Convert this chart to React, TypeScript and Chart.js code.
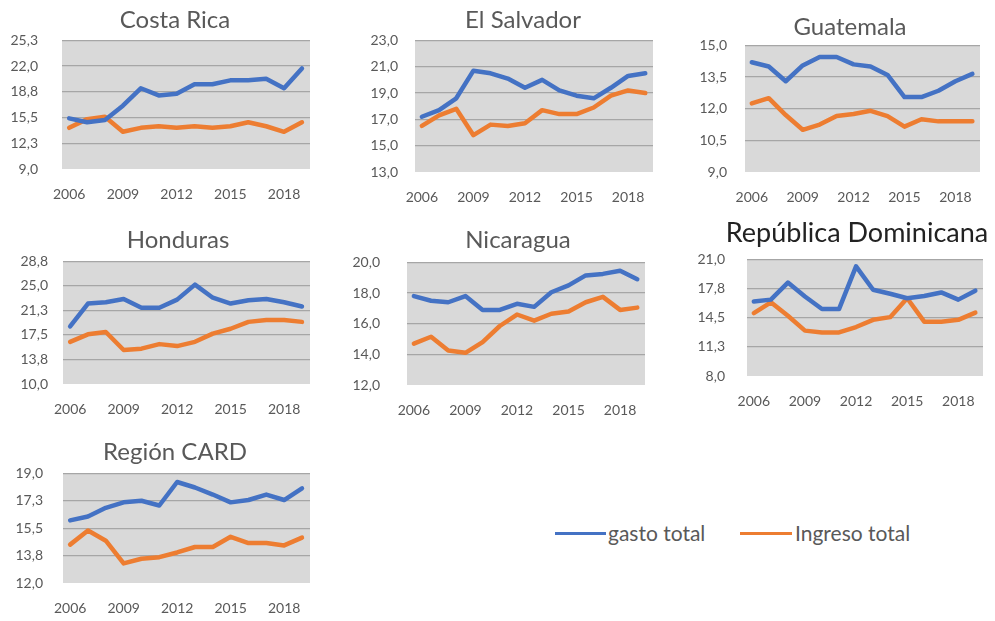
import React, { useEffect, useRef } from "react";
import { Chart, registerables } from "chart.js";

Chart.register(...registerables);

// ---------- DATA ----------
const years = [2006, 2007, 2008, 2009, 2010, 2011, 2012, 2013, 2014, 2015, 2016, 2017, 2018, 2019];
const xTickYears = [2006, 2009, 2012, 2015, 2018];

const costaRicaGasto = [15.4, 14.9, 15.2, 17.0, 19.2, 18.3, 18.5, 19.7, 19.7, 20.2, 20.2, 20.4, 19.2, 21.7];
const costaRicaIngreso = [14.2, 15.3, 15.6, 13.7, 14.2, 14.4, 14.2, 14.4, 14.2, 14.4, 14.9, 14.4, 13.7, 14.9];
const costaRicaTicks = [9, 12.25, 15.5, 18.75, 22, 25.25];

const elSalvadorGasto = [17.2, 17.7, 18.6, 20.7, 20.5, 20.1, 19.4, 20.0, 19.2, 18.8, 18.6, 19.4, 20.3, 20.5];
const elSalvadorIngreso = [16.5, 17.3, 17.8, 15.8, 16.6, 16.5, 16.7, 17.7, 17.4, 17.4, 17.9, 18.8, 19.2, 19.0];
const elSalvadorTicks = [13, 15, 17, 19, 21, 23];

const guatemalaGasto = [14.2, 14.0, 13.3, 14.05, 14.45, 14.45, 14.1, 14.0, 13.6, 12.55, 12.55, 12.85, 13.3, 13.65];
const guatemalaIngreso = [12.25, 12.5, 11.7, 11.0, 11.25, 11.65, 11.75, 11.9, 11.65, 11.15, 11.5, 11.4, 11.4, 11.4];
const guatemalaTicks = [9, 10.5, 12, 13.5, 15];

const hondurasGasto = [18.8, 22.3, 22.5, 23.0, 21.65, 21.65, 22.9, 25.2, 23.2, 22.3, 22.8, 23.0, 22.5, 21.85];
const hondurasIngreso = [16.45, 17.6, 17.95, 15.2, 15.4, 16.1, 15.8, 16.45, 17.7, 18.45, 19.5, 19.8, 19.8, 19.5];
const hondurasTicks = [10, 13.75, 17.5, 21.25, 25, 28.75];

const nicaraguaGasto = [17.8, 17.5, 17.4, 17.8, 16.9, 16.9, 17.3, 17.1, 18.05, 18.5, 19.15, 19.25, 19.45, 18.9];
const nicaraguaIngreso = [14.7, 15.15, 14.25, 14.1, 14.8, 15.85, 16.6, 16.2, 16.65, 16.8, 17.4, 17.75, 16.9, 17.05];
const nicaraguaTicks = [12, 14, 16, 18, 20];

const dominicanaGasto = [16.3, 16.5, 18.4, 16.85, 15.45, 15.45, 20.2, 17.6, 17.15, 16.65, 16.9, 17.3, 16.5, 17.5];
const dominicanaIngreso = [15.0, 16.2, 14.7, 13.05, 12.85, 12.85, 13.45, 14.25, 14.55, 16.65, 14.05, 14.05, 14.25, 15.05];
const dominicanaTicks = [8, 11.25, 14.5, 17.75, 21];

const cardGasto = [16.0, 16.25, 16.8, 17.15, 17.25, 16.95, 18.45, 18.1, 17.65, 17.15, 17.3, 17.65, 17.3, 18.05];
const cardIngreso = [14.45, 15.35, 14.7, 13.25, 13.55, 13.65, 13.95, 14.3, 14.3, 14.95, 14.55, 14.55, 14.4, 14.9];
const cardTicks = [12, 13.75, 15.5, 17.25, 19];

const seriesNames = ["gasto total", "Ingreso total"];

// ---------- STYLE / LAYOUT ----------
const BLUE = "#4472c4";
const ORANGE = "#ed7d31";
const TEXT = "#595959";
const GRID = "#a6a6a6";
const PLOT_BG = "#d9d9d9";
const FONT = "Lato, 'Open Sans', sans-serif";

type Panel = {
  title: string;
  gasto: number[];
  ingreso: number[];
  ticks: number[];
  rect: [number, number, number, number]; // plot L, T, R, B
  titleX: number;
  labelGap: number;
  titleAbove: number;
  titleSize: number;
  titleColor: string;
};

const panels: Panel[] = [
  { title: "Costa Rica", gasto: costaRicaGasto, ingreso: costaRicaIngreso, ticks: costaRicaTicks, rect: [62, 40, 310, 169], titleX: 175, labelGap: 24, titleAbove: 20, titleSize: 24, titleColor: TEXT },
  { title: "El Salvador", gasto: elSalvadorGasto, ingreso: elSalvadorIngreso, ticks: elSalvadorTicks, rect: [415, 40, 653, 172], titleX: 523, labelGap: 17, titleAbove: 20, titleSize: 24, titleColor: TEXT },
  { title: "Guatemala", gasto: guatemalaGasto, ingreso: guatemalaIngreso, ticks: guatemalaTicks, rect: [745, 45, 980, 172], titleX: 850, labelGap: 18, titleAbove: 18, titleSize: 24, titleColor: TEXT },
  { title: "Honduras", gasto: hondurasGasto, ingreso: hondurasIngreso, ticks: hondurasTicks, rect: [63, 261, 310, 384], titleX: 178, labelGap: 15, titleAbove: 21, titleSize: 24, titleColor: TEXT },
  { title: "Nicaragua", gasto: nicaraguaGasto, ingreso: nicaraguaIngreso, ticks: nicaraguaTicks, rect: [407, 262, 645, 385], titleX: 518, labelGap: 27, titleAbove: 22, titleSize: 24, titleColor: TEXT },
  { title: "República Dominicana", gasto: dominicanaGasto, ingreso: dominicanaIngreso, ticks: dominicanaTicks, rect: [747, 259, 983, 376], titleX: 857, labelGap: 22, titleAbove: 26, titleSize: 27, titleColor: "#222222" },
  { title: "Región CARD", gasto: cardGasto, ingreso: cardIngreso, ticks: cardTicks, rect: [63, 473, 310, 583], titleX: 175, labelGap: 20, titleAbove: 21, titleSize: 24, titleColor: TEXT },
];

const YW = 70; // y-axis box width
const XH = 40; // x-axis box height
const TITLE_TOP = 2;

const bgPlugin = {
  id: "plotBg",
  beforeDraw(chart: any) {
    const { ctx, chartArea } = chart;
    if (!chartArea) return;
    ctx.save();
    ctx.fillStyle = PLOT_BG;
    ctx.fillRect(chartArea.left, chartArea.top, chartArea.right - chartArea.left, chartArea.bottom - chartArea.top);
    ctx.restore();
  },
};

function fmt(v: number) {
  return v.toFixed(1).replace(".", ",");
}

function MiniChart({ p }: { p: Panel }) {
  const ref = useRef<HTMLCanvasElement | null>(null);
  const [L, T, R, B] = p.rect;
  const lineH = p.titleSize * 1.2;
  const padBottom = p.titleAbove - lineH / 2;
  const TH = TITLE_TOP + lineH + padBottom;
  const width = Math.round(2 * (p.titleX - L + YW));
  const RP = width - YW - (R - L);
  const height = Math.round(TH + (B - T) + XH);

  useEffect(() => {
    if (!ref.current) return;
    const ymin = p.ticks[0];
    const ymax = p.ticks[p.ticks.length - 1];
    const chart = new Chart(ref.current, {
      type: "line",
      data: {
        datasets: [
          {
            label: seriesNames[0],
            data: years.map((y, i) => ({ x: y, y: p.gasto[i] })),
            borderColor: BLUE,
            backgroundColor: BLUE,
            borderWidth: 4.5,
            pointRadius: 0,
            tension: 0,
            borderJoinStyle: "round",
            borderCapStyle: "round",
          },
          {
            label: seriesNames[1],
            data: years.map((y, i) => ({ x: y, y: p.ingreso[i] })),
            borderColor: ORANGE,
            backgroundColor: ORANGE,
            borderWidth: 4.5,
            pointRadius: 0,
            tension: 0,
            borderJoinStyle: "round",
            borderCapStyle: "round",
          },
        ],
      },
      options: {
        animation: false,
        responsive: false,
        maintainAspectRatio: false,
        events: [],
        layout: { padding: 0 },
        plugins: {
          legend: { display: false },
          tooltip: { enabled: false },
          title: {
            display: true,
            text: p.title,
            color: p.titleColor,
            font: { family: FONT, size: p.titleSize, weight: "normal" },
            padding: { top: TITLE_TOP, bottom: padBottom },
          },
        },
        scales: {
          x: {
            type: "linear",
            min: 2005.6,
            max: 2019.45,
            afterBuildTicks: (s: any) => {
              s.ticks = xTickYears.map((v) => ({ value: v }));
            },
            afterFit: (s: any) => {
              s.height = XH;
            },
            ticks: {
              autoSkip: false,
              maxRotation: 0,
              color: TEXT,
              font: { family: FONT, size: 14 },
              padding: 17,
              callback: (v: any) => String(v),
            },
            grid: { display: false, drawTicks: false },
            border: { display: false },
          },
          y: {
            type: "linear",
            position: "left",
            min: ymin,
            max: ymax,
            afterBuildTicks: (s: any) => {
              s.ticks = p.ticks.map((v) => ({ value: v }));
            },
            afterFit: (s: any) => {
              s.width = YW;
            },
            ticks: {
              color: TEXT,
              font: { family: FONT, size: 14 },
              padding: p.labelGap,
              callback: (v: any) => fmt(Number(v)),
            },
            grid: {
              drawTicks: false,
              lineWidth: 1.3,
              color: (ctx: any) => (ctx.tick && ctx.tick.value === ymin ? "rgba(0,0,0,0)" : GRID),
            },
            border: { display: false },
          },
          spacer: {
            type: "linear",
            position: "right",
            min: 0,
            max: 1,
            afterFit: (s: any) => {
              s.width = RP;
            },
            ticks: { display: false },
            grid: { display: false, drawTicks: false },
            border: { display: false },
          },
        },
      } as any,
      plugins: [bgPlugin],
    });
    return () => chart.destroy();
  }, []);

  return (
    <canvas
      ref={ref}
      width={width}
      height={height}
      style={{ position: "absolute", left: L - YW, top: Math.round(T - TH), width, height }}
    />
  );
}

const legendText: React.CSSProperties = {
  position: "absolute",
  top: 520,
  height: 26,
  lineHeight: "26px",
  fontFamily: FONT,
  fontSize: 21,
  color: TEXT,
  whiteSpace: "nowrap",
};

export default function App() {
  return (
    <div style={{ position: "absolute", left: 0, top: 0, width: 995, height: 621, background: "#ffffff", overflow: "hidden" }}>
      {panels.map((p) => (
        <MiniChart key={p.title} p={p} />
      ))}
      <span style={{ position: "absolute", left: 555, top: 532, width: 51, height: 3, background: BLUE }} />
      <span style={{ ...legendText, left: 608 }}>{seriesNames[0]}</span>
      <span style={{ position: "absolute", left: 740, top: 532, width: 52, height: 3, background: ORANGE }} />
      <span style={{ ...legendText, left: 795 }}>{seriesNames[1]}</span>
    </div>
  );
}
